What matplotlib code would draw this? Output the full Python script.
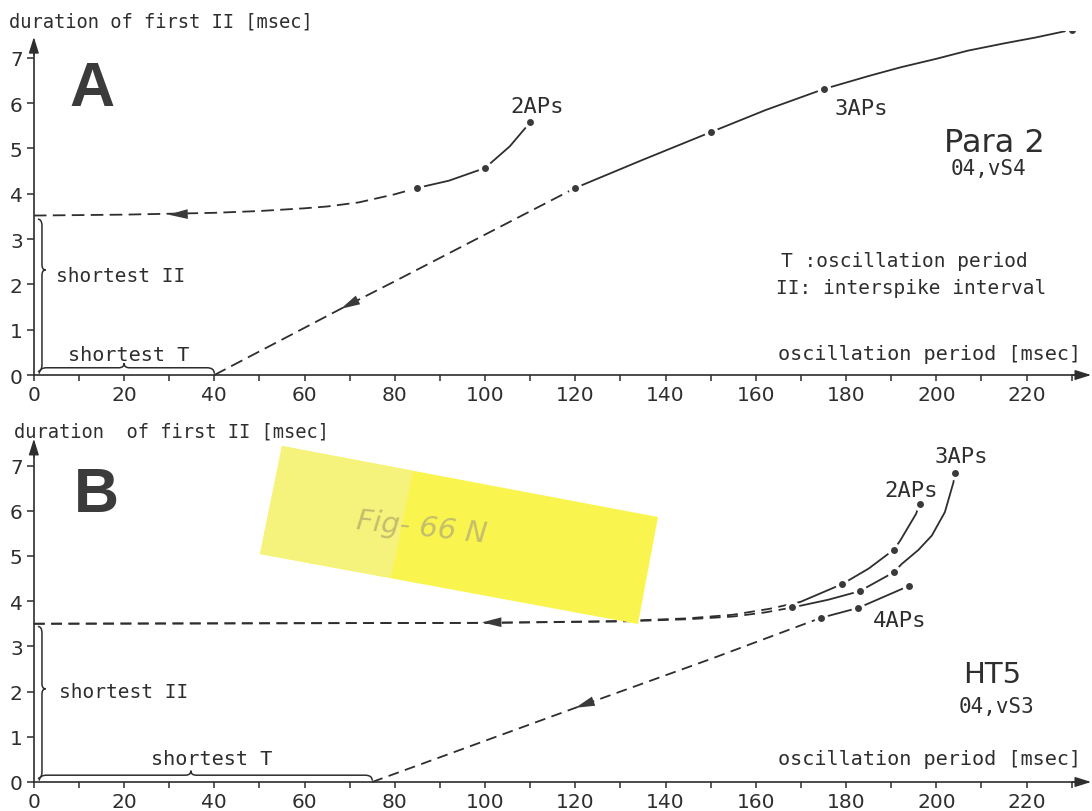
import matplotlib
matplotlib.use("Agg")
import matplotlib.pyplot as plt
from matplotlib.path import Path
from matplotlib.patches import PathPatch, Polygon

plt.rcParams['font.family'] = ['DejaVu Sans']

INK = '#2e2e2e'
MONO = ['DejaVu Sans Mono']

# ---------------- data: panel A (Para 2) ----------------
a_2aps_dots_x = [85, 100, 110]
a_2aps_dots_y = [4.13, 4.57, 5.58]
a_2aps_solid_x = [85, 92, 100, 105.5, 110]
a_2aps_solid_y = [4.13, 4.29, 4.57, 5.05, 5.58]
a_2aps_dash_x = [0, 20, 40, 50, 60, 65, 72, 80, 85]
a_2aps_dash_y = [3.52, 3.54, 3.58, 3.62, 3.68, 3.72, 3.81, 3.99, 4.13]

a_3aps_dots_x = [120, 150, 175, 230]
a_3aps_dots_y = [4.13, 5.36, 6.31, 7.62]
a_3aps_solid_x = [120, 134.7, 150, 162.2, 175, 185, 192, 200, 207, 215, 222, 230]
a_3aps_solid_y = [4.13, 4.74, 5.36, 5.85, 6.31, 6.60, 6.79, 6.98, 7.16, 7.32, 7.45, 7.62]
a_3aps_dash_x = [40, 68, 80, 100, 120]
a_3aps_dash_y = [0, 1.46, 2.07, 3.10, 4.13]

a_arrows = [((29.8, 3.54), (35.0, 3.555)), ((68.0, 1.46), (72.0, 1.666))]
a_shortest_T = 40
a_shortest_II = 3.5

# ---------------- data: panel B (HT5) ----------------
b_2aps_dots_x = [179.2, 190.6, 196.3]
b_2aps_dots_y = [4.38, 5.14, 6.15]
b_2aps_solid_x = [169.8, 179.2, 185, 190.6, 192, 195.5, 196.3]
b_2aps_solid_y = [3.98, 4.38, 4.72, 5.14, 5.34, 5.93, 6.15]
b_2aps_dash_x = [0, 100, 130, 145, 155, 163, 169.8]
b_2aps_dash_y = [3.50, 3.52, 3.56, 3.62, 3.70, 3.83, 3.98]

b_3aps_dots_x = [168.1, 183, 190.6, 204.1]
b_3aps_dots_y = [3.86, 4.22, 4.64, 6.84]
b_3aps_solid_x = [168.1, 176, 183, 190.6, 192.3, 196, 199, 201.9, 203.8, 204.1]
b_3aps_solid_y = [3.86, 4.03, 4.22, 4.64, 4.82, 5.13, 5.45, 5.97, 6.63, 6.84]
b_3aps_dash_x = [0, 100, 130, 145, 155, 162, 168.1]
b_3aps_dash_y = [3.50, 3.52, 3.55, 3.60, 3.66, 3.75, 3.86]

b_4aps_dots_x = [174.4, 182.7, 194]
b_4aps_dots_y = [3.63, 3.85, 4.34]
b_4aps_solid_x = [174.4, 182.7, 194]
b_4aps_solid_y = [3.63, 3.85, 4.34]
b_4aps_dash_x = [75, 120, 150, 174.4]
b_4aps_dash_y = [0, 1.64, 2.72, 3.63]

b_arrows = [((99.3, 3.53), (104.5, 3.535)), ((120.0, 1.64), (124.0, 1.786))]
b_shortest_T = 75
b_shortest_II = 3.5

x_major = [0, 20, 40, 60, 80, 100, 120, 140, 160, 180, 200, 220]
x_minor = [10, 30, 50, 70, 90, 110, 130, 150, 170, 190, 210, 230]
y_major = [0, 1, 2, 3, 4, 5, 6, 7]

W, H = 1092, 812
fig = plt.figure(figsize=(W / 100, H / 100), dpi=100)
fig.patch.set_facecolor('white')

axA = fig.add_axes([0, 0.50345, 1, 0.4575])
axB = fig.add_axes([0, 0.00234, 1, 0.4621])
axA.set_ylim(-0.6, 7.6)
axB.set_ylim(-0.6, 7.7)


def style_axes(ax, ytop):
    ax.set_xlim(-7.5, 234.5)
    ax.patch.set_alpha(0)
    for s in ['top', 'right']:
        ax.spines[s].set_visible(False)
    ax.spines['bottom'].set_position(('data', 0))
    ax.spines['left'].set_position(('data', 0))
    ax.spines['bottom'].set_bounds(0, 233)
    ax.spines['left'].set_bounds(0, ytop - 0.15)
    for s in ['bottom', 'left']:
        ax.spines[s].set_color(INK)
        ax.spines[s].set_linewidth(1.2)
    ax.set_xticks(x_major)
    ax.set_xticks(x_minor, minor=True)
    ax.set_yticks(y_major)
    ax.set_xticklabels([str(v) for v in x_major])
    ax.set_yticklabels([str(v) for v in y_major])
    ax.tick_params(axis='x', which='both', direction='out', length=4, width=1.1,
                   color=INK, labelsize=14.5, labelcolor=INK, pad=3)
    ax.tick_params(axis='y', which='both', direction='out', length=5, width=1.1,
                   color=INK, labelsize=14.5, labelcolor=INK, pad=3)
    ax.annotate('', xy=(234.3, 0), xytext=(230, 0),
                arrowprops=dict(arrowstyle='-|>,head_length=0.7,head_width=0.22',
                                color=INK, lw=1.0, shrinkA=0, shrinkB=0,
                                mutation_scale=14), annotation_clip=False)
    ax.annotate('', xy=(0, ytop), xytext=(0, ytop - 0.4),
                arrowprops=dict(arrowstyle='-|>,head_length=0.7,head_width=0.22',
                                color=INK, lw=1.0, shrinkA=0, shrinkB=0,
                                mutation_scale=14), annotation_clip=False)


style_axes(axA, 7.46)
style_axes(axB, 7.59)


def draw_curve(ax, dash_x, dash_y, solid_x, solid_y, dots_x, dots_y, dashes):
    if dash_x:
        ax.plot(dash_x, dash_y, color=INK, lw=1.3, dashes=dashes, zorder=2,
                solid_capstyle='butt', dash_capstyle='butt')
    ax.plot(solid_x, solid_y, color=INK, lw=1.3, zorder=2)
    ax.plot(dots_x, dots_y, 'o', ms=10, color='white', mew=0, zorder=3)
    ax.plot(dots_x, dots_y, 'o', ms=5, color='#3a3a3a', mew=0, zorder=4)


def draw_arrow(ax, tip, tail):
    ax.annotate('', xy=tip, xytext=tail,
                arrowprops=dict(arrowstyle='-|>,head_length=1.0,head_width=0.25',
                                color='#3a3a3a', lw=0, shrinkA=0, shrinkB=0,
                                mutation_scale=14), zorder=5)


def hbrace(ax, x0, x1, tip, y0):
    ybase = 0.03
    verts = [(x0, ybase), (x0, y0), (x0 + 1.6, y0),
             (tip - 1.2, y0), (tip, y0), (tip, y0 + 0.1),
             (tip, y0), (tip + 1.2, y0),
             (x1 - 1.6, y0), (x1, y0), (x1, ybase)]
    codes = [Path.MOVETO, Path.CURVE3, Path.CURVE3,
             Path.LINETO, Path.CURVE3, Path.CURVE3,
             Path.CURVE3, Path.CURVE3,
             Path.LINETO, Path.CURVE3, Path.CURVE3]
    ax.add_patch(PathPatch(Path(verts, codes), fill=False, ec=INK, lw=1.1))


def vbrace(ax, y0, y1, tip, x0):
    xb = 0.9
    verts = [(xb, y1), (x0, y1), (x0, y1 - 0.15),
             (x0, tip + 0.12), (x0, tip), (x0 + 0.8, tip),
             (x0, tip), (x0, tip - 0.12),
             (x0, y0 + 0.15), (x0, y0), (xb, y0)]
    codes = [Path.MOVETO, Path.CURVE3, Path.CURVE3,
             Path.LINETO, Path.CURVE3, Path.CURVE3,
             Path.CURVE3, Path.CURVE3,
             Path.LINETO, Path.CURVE3, Path.CURVE3]
    ax.add_patch(PathPatch(Path(verts, codes), fill=False, ec=INK, lw=1.1))


# ---- panel A ----
dA = (7, 3.5)
draw_curve(axA, a_2aps_dash_x, a_2aps_dash_y, a_2aps_solid_x, a_2aps_solid_y,
           a_2aps_dots_x, a_2aps_dots_y, dA)
draw_curve(axA, a_3aps_dash_x, a_3aps_dash_y, a_3aps_solid_x, a_3aps_solid_y,
           a_3aps_dots_x, a_3aps_dots_y, dA)
for tip, tail in a_arrows:
    draw_arrow(axA, tip, tail)
hbrace(axA, 1.2, a_shortest_T, a_shortest_T / 2, 0.16)
vbrace(axA, 0.08, a_shortest_II - 0.06, 2.32, 1.8)

tk = dict(color=INK)
mk = dict(color=INK, family=MONO)
axA.text(12.9, 5.96, 'A', fontsize=45, fontweight='bold', color='#3b3b3b',
         family=['Liberation Sans'], ha='center', va='baseline')
axA.text(111.5, 5.81, '2APs', fontsize=16, ha='center', va='baseline', **mk)
axA.text(183.3, 5.76, '3APs', fontsize=16, ha='center', va='baseline', **mk)
axA.text(212.8, 4.94, 'Para 2', fontsize=23, ha='center', va='baseline', **tk)
axA.text(211.6, 4.44, '04,vS4', fontsize=15, ha='center', va='baseline', **mk)
axA.text(193.0, 2.41, 'T :oscillation period', fontsize=14, ha='center', va='baseline', **mk)
axA.text(194.5, 1.81, 'II: interspike interval', fontsize=14, ha='center', va='baseline', **mk)
axA.text(198.6, 0.35, 'oscillation period [msec]', fontsize=14.5, ha='center', va='baseline', **mk)
axA.text(19.3, 2.08, 'shortest II', fontsize=14, ha='center', va='baseline', **mk)
axA.text(20.9, 0.33, 'shortest T', fontsize=14.5, ha='center', va='baseline', **mk)

# ---- panel B ----
dB = (6, 3.6)
draw_curve(axB, b_2aps_dash_x, b_2aps_dash_y, b_2aps_solid_x, b_2aps_solid_y,
           b_2aps_dots_x, b_2aps_dots_y, dB)
draw_curve(axB, b_3aps_dash_x, b_3aps_dash_y, b_3aps_solid_x, b_3aps_solid_y,
           b_3aps_dots_x, b_3aps_dots_y, dB)
draw_curve(axB, b_4aps_dash_x, b_4aps_dash_y, b_4aps_solid_x, b_4aps_solid_y,
           b_4aps_dots_x, b_4aps_dots_y, dB)
for tip, tail in b_arrows:
    draw_arrow(axB, tip, tail)
hbrace(axB, 1.2, b_shortest_T, 34.8, 0.15)
vbrace(axB, 0.08, b_shortest_II - 0.06, 2.06, 1.8)

axB.text(13.8, 6.0, 'B', fontsize=45, fontweight='bold', color='#3b3b3b',
         family=['Liberation Sans'], ha='center', va='baseline')
axB.text(194.4, 6.33, '2APs', fontsize=16, ha='center', va='baseline', **mk)
axB.text(205.5, 7.08, '3APs', fontsize=16, ha='center', va='baseline', **mk)
axB.text(191.8, 3.45, '4APs', fontsize=16, ha='center', va='baseline', **mk)
axB.text(212.4, 2.21, 'HT5', fontsize=21, ha='center', va='baseline', **tk)
axB.text(213.3, 1.55, '04,vS3', fontsize=15, ha='center', va='baseline', **mk)
axB.text(198.6, 0.40, 'oscillation period [msec]', fontsize=14.5, ha='center', va='baseline', **mk)
axB.text(20.0, 1.88, 'shortest II', fontsize=14, ha='center', va='baseline', **mk)
axB.text(39.5, 0.40, 'shortest T', fontsize=14.5, ha='center', va='baseline', **mk)

# y-axis titles
fig.text(161 / W, 1 - 27 / H, 'duration of first II [msec]', fontsize=13.5,
         ha='center', va='baseline', color=INK, family=MONO)
fig.text(172 / W, 1 - 438 / H, 'duration  of first II [msec]', fontsize=13.5,
         ha='center', va='baseline', color=INK, family=MONO)

# sticky note (scan artefact)
def px(p):
    return (p[0] / W, 1 - p[1] / H)

note = [(282, 447), (658, 518), (638, 625), (260, 555)]
light = [(282, 447), (413, 472), (391, 579), (260, 555)]
fig.patches.append(Polygon([px(p) for p in note], closed=True, transform=fig.transFigure,
                           fc='#faf54e', ec='none', zorder=5))
fig.patches.append(Polygon([px(p) for p in light], closed=True, transform=fig.transFigure,
                           fc='#f6f37c', ec='none', zorder=5))
fig.text(422 / W, 1 - 528 / H, 'Fig- 66 N', fontsize=21, style='italic',
         color='#c4bd6c', ha='center', va='center', rotation=-6, zorder=6)

fig.savefig('out.png', dpi=100, facecolor='white')
